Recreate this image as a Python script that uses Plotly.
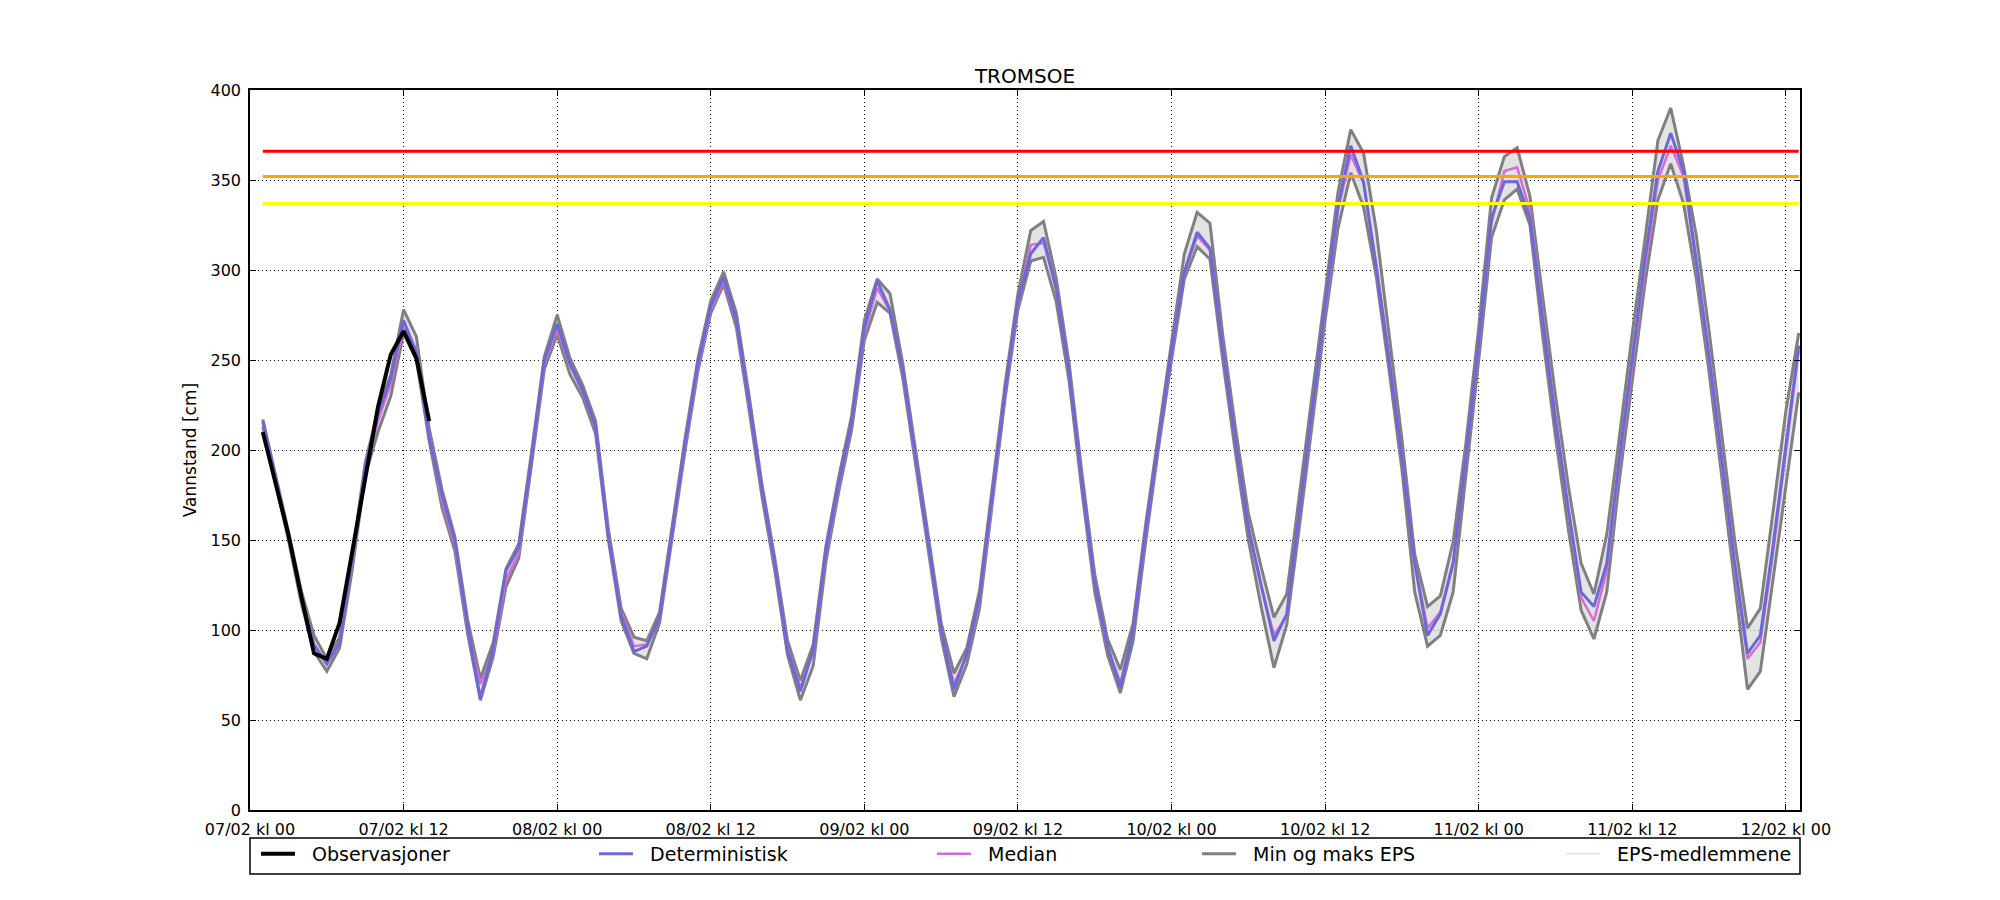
"""
Vannstand for TROMSOE: observasjoner, deterministisk prognose, EPS-median,
min/maks EPS og farenivaer.
"""
import pandas as pd
import plotly.graph_objects as go

# hourly forecast times, 07/02 kl 01 .. 12/02 kl 01
times = pd.date_range("2016-02-07 01:00", periods=121, freq="h")
obs_times = times[:14]

observations = [210, 181, 153, 119, 87, 84, 104, 144, 183, 224, 253, 266, 251, 216]

deterministic = [
    216, 184, 153, 118, 92, 81, 93, 140, 190, 220, 240, 272,
    254, 207, 175, 150, 102, 62, 90, 133, 146, 196, 250, 270,
    248, 233, 213, 152, 108, 88, 91, 107, 156, 204, 248, 280,
    296, 272, 226, 178, 137, 89, 66, 89, 144, 182, 215, 268,
    294, 278, 244, 196, 150, 100, 67, 87, 118, 174, 233, 283,
    309, 318, 289, 243, 182, 126, 91, 68, 100, 156, 207, 255,
    299, 321, 312, 256, 204, 157, 125, 94, 109, 167, 224, 280,
    335, 369, 349, 301, 250, 196, 137, 97, 109, 137, 196, 260,
    329, 349, 349, 329, 272, 216, 167, 121, 113, 137, 196, 252,
    307, 355, 376, 355, 305, 252, 194, 137, 87, 97, 147, 204,
    258,
]

median = [
    215, 184, 152, 117, 91, 82, 94, 138, 188, 216, 237, 268,
    256, 208, 172, 147, 100, 70, 88, 128, 143, 195, 248, 267,
    247, 232, 212, 153, 110, 91, 92, 106, 155, 202, 246, 278,
    294, 271, 225, 177, 136, 90, 68, 88, 142, 180, 214, 265,
    290, 277, 243, 195, 149, 99, 70, 86, 116, 172, 232, 281,
    314, 315, 290, 243, 182, 126, 90, 71, 99, 154, 205, 253,
    298, 319, 311, 256, 204, 157, 124, 97, 108, 165, 222, 278,
    333, 364, 348, 303, 252, 197, 138, 101, 110, 138, 195, 258,
    326, 355, 357, 333, 275, 218, 167, 118, 105, 133, 192, 248,
    302, 350, 369, 352, 303, 250, 192, 134, 84, 93, 143, 200,
    255,
]

eps_max = [
    217, 186, 155, 122, 97, 84, 96, 142, 193, 222, 242, 278,
    263, 212, 178, 152, 106, 73, 93, 134, 148, 199, 252, 275,
    251, 236, 216, 156, 112, 96, 94, 110, 159, 207, 251, 283,
    299, 276, 230, 181, 140, 94, 72, 92, 147, 185, 219, 272,
    295, 287, 248, 200, 154, 104, 76, 90, 122, 178, 237, 287,
    322, 327, 295, 248, 187, 131, 95, 78, 104, 160, 211, 260,
    309, 332, 326, 264, 212, 165, 135, 107, 120, 176, 232, 288,
    343, 378, 365, 322, 263, 206, 142, 113, 119, 149, 204, 268,
    340, 363, 368, 341, 285, 230, 180, 137, 120, 153, 208, 265,
    318, 372, 390, 358, 319, 266, 208, 150, 101, 112, 166, 222,
    265,
]

eps_min = [
    213, 181, 150, 115, 88, 77, 90, 134, 186, 210, 230, 265,
    250, 205, 168, 144, 98, 61, 85, 124, 140, 192, 245, 264,
    242, 229, 209, 150, 105, 87, 84, 104, 153, 200, 244, 276,
    292, 268, 222, 174, 133, 86, 61, 80, 138, 177, 211, 261,
    282, 276, 240, 192, 146, 96, 63, 81, 112, 169, 229, 278,
    305, 307, 282, 238, 177, 121, 86, 65, 94, 150, 202, 250,
    295, 313, 306, 250, 198, 150, 113, 79, 103, 158, 216, 272,
    323, 354, 335, 296, 244, 189, 121, 91, 97, 121, 186, 250,
    318, 339, 345, 325, 263, 207, 156, 111, 95, 121, 184, 240,
    293, 339, 359, 337, 295, 243, 185, 125, 67, 77, 130, 180,
    232,
]

# farenivaer (cm)
level_red = 366
level_orange = 352
level_yellow = 337

FONT = "DejaVu Sans"
PAGE_PAD = 8  # default body margin of the html page
W, H = 2000 - 2 * PAGE_PAD, 900 - 2 * PAGE_PAD
M_L, M_T = 250 - PAGE_PAD, 90 - PAGE_PAD
plot_w, plot_h = 1550, 720
M_R = W - M_L - plot_w
M_B = H - M_T - plot_h


def px_x(x):
    # window pixel -> paper x
    return (x - PAGE_PAD - M_L) / plot_w


def px_y(y):
    # window pixel -> paper y
    return (PAGE_PAD + M_T + plot_h - y) / plot_h


fig = go.Figure()

# EPS members shown as the band they cover
fig.add_trace(go.Scatter(x=times, y=eps_max, mode='lines', line=dict(width=0),
                         showlegend=False, hoverinfo='skip'))
fig.add_trace(go.Scatter(x=times, y=eps_min, mode='lines', line=dict(width=0),
                         fill='tonexty', fillcolor='rgba(215,215,215,0.7)',
                         showlegend=False, hoverinfo='skip'))

fig.add_trace(go.Scatter(x=times, y=eps_max, mode='lines', name='\u00a0\u00a0Min og maks EPS',
                         line=dict(color='#808080', width=3), legend='legend4'))
fig.add_trace(go.Scatter(x=times, y=eps_min, mode='lines', name='Min og maks EPS',
                         line=dict(color='#808080', width=3), showlegend=False))
fig.add_trace(go.Scatter(x=times, y=median, mode='lines', name='\u00a0\u00a0Median',
                         line=dict(color='#d56cd5', width=2.5), legend='legend3'))
fig.add_trace(go.Scatter(x=times, y=deterministic, mode='lines', name='\u00a0\u00a0Deterministisk',
                         line=dict(color='#6b68d8', width=3), legend='legend2'))

for level, color in [(level_red, '#ff0000'), (level_orange, '#ffa500'), (level_yellow, '#ffff00')]:
    fig.add_trace(go.Scatter(x=[times[0], times[-1]], y=[level, level], mode='lines',
                             line=dict(color=color, width=3), showlegend=False, hoverinfo='skip'))

fig.add_trace(go.Scatter(x=obs_times, y=observations, mode='lines', name='\u00a0\u00a0Observasjoner',
                         line=dict(color='black', width=4), legend='legend'))

# legend-only entry for the members
fig.add_trace(go.Scatter(x=[None], y=[None], mode='lines', name='\u00a0\u00a0EPS-medlemmene',
                         line=dict(color='#d8d8d8', width=1), legend='legend5'))

legend_base = dict(orientation='h', yanchor='middle', y=px_y(854), xanchor='left',
                   bgcolor='rgba(0,0,0,0)', borderwidth=0, itemwidth=34,
                   font=dict(family=FONT, size=19, color='black'))
legend_starts = [256, 594, 932, 1197, 1561]

fig.update_layout(
    width=W, height=H,
    margin=dict(l=M_L, r=M_R, t=M_T, b=M_B),
    paper_bgcolor='white', plot_bgcolor='white',
    font=dict(family=FONT, size=16, color='black'),
    title=dict(text='TROMSOE', x=0.5, xref='paper', xanchor='center',
               y=1 - (76 - PAGE_PAD) / H, yref='container', yanchor='middle',
               font=dict(family=FONT, size=20, color='black')),
    legend=dict(legend_base, x=px_x(legend_starts[0])),
    legend2=dict(legend_base, x=px_x(legend_starts[1])),
    legend3=dict(legend_base, x=px_x(legend_starts[2])),
    legend4=dict(legend_base, x=px_x(legend_starts[3])),
    legend5=dict(legend_base, x=px_x(legend_starts[4])),
    shapes=[dict(type='rect', xref='paper', yref='paper',
                 x0=0, x1=1, y0=px_y(874), y1=px_y(838),
                 line=dict(color='black', width=1.5), fillcolor='rgba(0,0,0,0)')],
)

fig.update_xaxes(
    type='date', range=['2016-02-07 00:00', '2016-02-12 01:06'],
    dtick=12 * 3600 * 1000, tick0='2016-02-07 00:00', tickformat='%d/%m kl %H',
    showline=True, linecolor='black', linewidth=1.5, mirror='ticks',
    ticks='inside', ticklen=6, tickcolor='black', ticklabelstandoff=4,
    showgrid=True, gridcolor='black', gridwidth=1, griddash='1px,3px', zeroline=False,
    tickfont=dict(family=FONT, size=16, color='black'),
)
fig.update_yaxes(
    range=[0, 400], dtick=50,
    showline=True, linecolor='black', linewidth=1.5, mirror='ticks',
    ticks='inside', ticklen=6, tickcolor='black', ticklabelstandoff=4,
    showgrid=True, gridcolor='black', gridwidth=1, griddash='1px,3px', zeroline=False,
    tickfont=dict(family=FONT, size=16, color='black'),
    title=dict(text='Vannstand [cm]', standoff=10, font=dict(family=FONT, size=17, color='black')),
)

fig.write_html("out.html")
